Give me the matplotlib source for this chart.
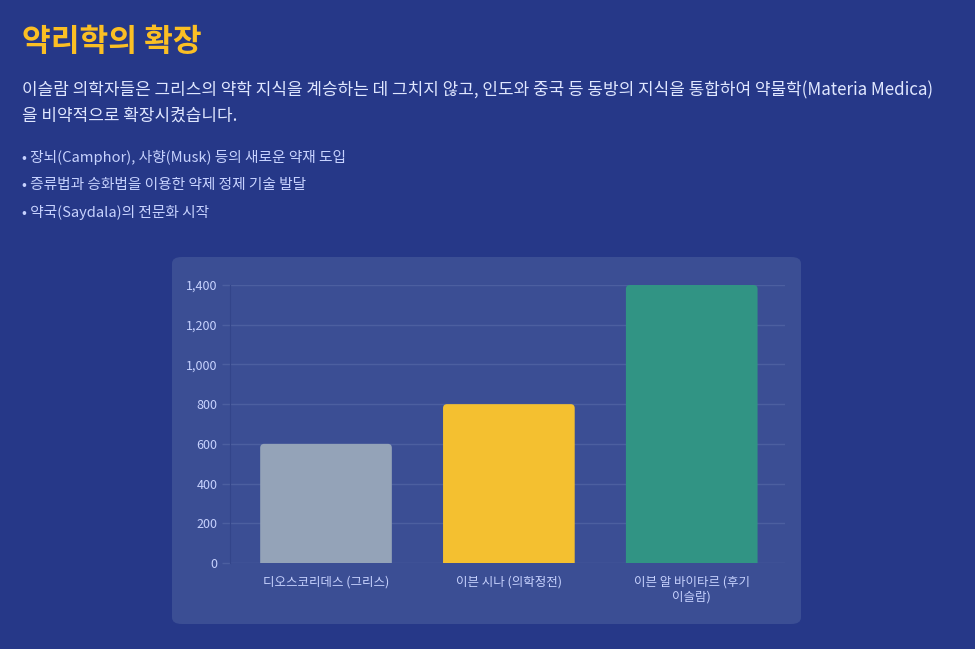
import matplotlib
matplotlib.use("Agg")
import matplotlib.pyplot as plt
from matplotlib.patches import FancyBboxPatch
from matplotlib.ticker import FuncFormatter

plt.rcParams['font.family'] = ['Noto Sans CJK KR', 'DejaVu Sans']

# data
categories = ['디오스코리데스 (그리스)', '이븐 시나 (의학정전)', '이븐 알 바이타르 (후기\n이슬람)']
values = [600, 800, 1400]
bar_colors = ['#94a3b8', '#f4c030', '#319484']
yticks = [0, 200, 400, 600, 800, 1000, 1200, 1400]

title = '약리학의 확장'
intro = ['이슬람 의학자들은 그리스의 약학 지식을 계승하는 데 그치지 않고, 인도와 중국 등 동방의 지식을 통합하여 약물학(Materia Medica)',
         '을 비약적으로 확장시켰습니다.']
bullets = ['• 장뇌(Camphor), 사향(Musk) 등의 새로운 약재 도입',
           '• 증류법과 승화법을 이용한 약제 정제 기술 발달',
           '• 약국(Saydala)의 전문화 시작']

W, H = 975, 649
fig = plt.figure(figsize=(W / 100, H / 100), dpi=100)
fig.patch.set_facecolor('#263888')

# header text
fig.text(22 / W, 1 - 42 / H, title, color='#fbbf24', fontsize=22.5, fontweight='bold', va='center')
for i, line in enumerate(intro):
    fig.text(22 / W, 1 - (90 + 26 * i) / H, line, color='#e0e7ff', fontsize=12.2, va='center', fontweight='medium')
for i, line in enumerate(bullets):
    fig.text(22 / W, 1 - (157 + 28 * i) / H, line, color='#c7d2fe', fontsize=10.6, va='center', fontweight='medium')

# chart panel
panel = FancyBboxPatch((172 / W, 1 - 624 / H), (801 - 172) / W, (624 - 257) / H,
                       boxstyle='round,pad=0,rounding_size=0.01', transform=fig.transFigure,
                       facecolor='#3b4e94', edgecolor='none', zorder=0)
fig.patches.append(panel)

ax = fig.add_axes([230 / W, 1 - 563 / H, (785 - 230) / W, (563 - 285) / H], zorder=2)
ax.set_facecolor('none')
x = range(len(categories))
bars = ax.bar(x, values, width=0.72, color=bar_colors, zorder=3)
ax.set_xlim(-0.525, 2.51)
ax.set_ylim(0, 1400)

# rounded tops: swap each bar for a rounded box, bottom pushed below the axis and clipped
x_per_px = (ax.get_xlim()[1] - ax.get_xlim()[0]) / (785 - 230)
y_per_px = 1400 / (563 - 285)
r = 4 * x_per_px
for b in bars:
    b.set_visible(False)
    bx, bw, bh = b.get_x(), b.get_width(), b.get_height()
    ext = 6 * y_per_px
    box = FancyBboxPatch((bx + r, -ext + r * y_per_px / x_per_px), bw - 2 * r, bh + ext - 2 * r * y_per_px / x_per_px,
                         boxstyle=f'round,pad={r},rounding_size={r}', mutation_aspect=y_per_px / x_per_px,
                         facecolor=b.get_facecolor(), edgecolor='none', zorder=3)
    ax.add_patch(box)

ax.set_yticks(yticks)
ax.yaxis.set_major_formatter(FuncFormatter(lambda v, p: f'{int(v):,}'))
ax.set_xticks(list(x))
ax.set_xticklabels(categories)
ax.grid(axis='y', color='#4c5fa0', linewidth=1, zorder=0)
for s in ['top', 'right', 'bottom']:
    ax.spines[s].set_visible(False)
ax.spines['left'].set_color('#33458a')
ax.tick_params(axis='y', colors='#c7d2fe', labelsize=9, length=6, width=1, pad=3)
ax.tick_params(axis='y', color='#4c5fa0')
ax.tick_params(axis='x', colors='#c7d2fe', labelsize=9, length=0, pad=9)
for lbl in ax.get_xticklabels() + ax.get_yticklabels():
    lbl.set_fontweight('medium')

fig.savefig('out.png', dpi=100, facecolor=fig.get_facecolor())
